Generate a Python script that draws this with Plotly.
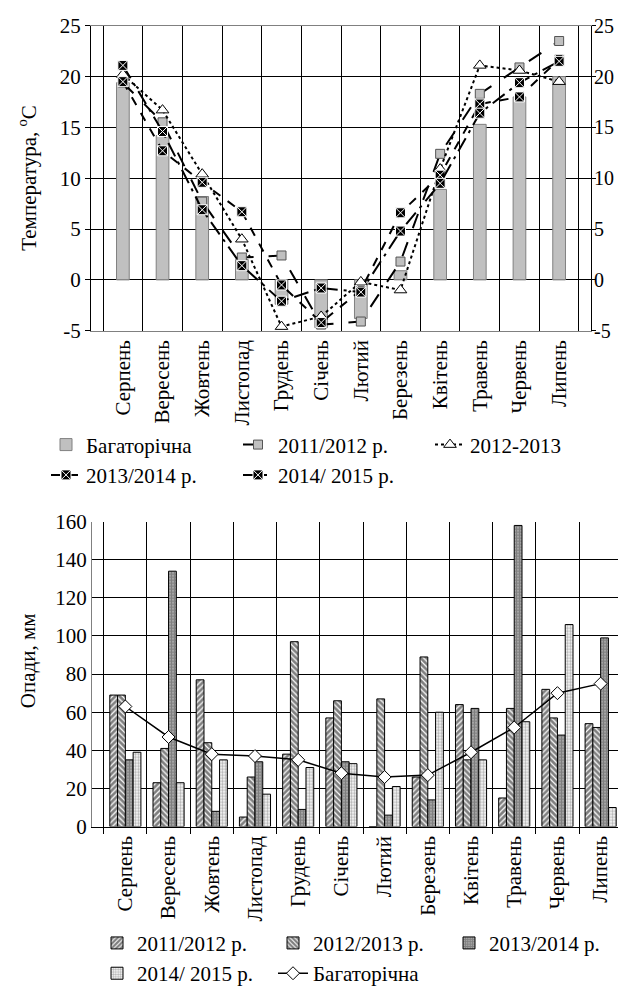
import plotly.graph_objects as go

months = ["Серпень", "Вересень", "Жовтень", "Листопад", "Грудень", "Січень",
          "Лютий", "Березень", "Квітень", "Травень", "Червень", "Липень"]

# Temperature, °C
temp_long = [19.4, 14.2, 8.2, 2.0, -2.4, -4.7, -3.8, 0.9, 8.9, 15.3, 18.0, 20.0]
temp_2011 = [19.4, 15.5, 7.7, 2.2, 2.4, -4.4, -4.1, 1.8, 12.4, 18.3, 20.9, 23.5]
temp_2012 = [20.2, 16.7, 10.4, 4.0, -4.6, -3.6, -0.2, -1.0, 10.9, 21.1, 20.6, 19.5]
temp_2013 = [19.5, 12.7, 9.6, 6.7, -0.5, -4.2, -1.0, 6.6, 10.3, 17.3, 18.0, 21.7]
temp_2014 = [21.1, 14.6, 6.9, 1.4, -2.1, -0.8, -1.2, 4.8, 9.5, 16.4, 19.4, 21.5]
temp_ticks = [-5, 0, 5, 10, 15, 20, 25]
temp_ticktext = ["-5", "0", "5", "10", "15", "20", "25"]

# Precipitation, mm
prec_2011 = [69, 23, 77, 5, 38, 57, 0, 26, 64, 15, 72, 54]
prec_2012 = [69, 41, 44, 26, 97, 66, 67, 89, 35, 62, 57, 52]
prec_2013 = [35, 134, 8, 34, 9, 34, 6, 14, 62, 158, 48, 99]
prec_2014 = [39, 23, 35, 17, 31, 33, 21, 60, 35, 55, 106, 10]
prec_long = [63, 47, 38, 37, 35, 28, 26, 27, 39, 52, 70, 75]

FONT = "Liberation Serif, Times New Roman, serif"
W, H = 626, 986


def px_x(v):
    return v / W


def px_y(v):
    return 1 - v / H


fig = go.Figure()

# ---------- top chart ----------
fig.add_trace(go.Bar(
    x=months, y=temp_long, name="Багаторічна", width=0.32,
    marker=dict(color="#c0c0c0", line=dict(color="#808080", width=1)),
    xaxis="x", yaxis="y", legend="legend"))
fig.add_trace(go.Scatter(
    x=months, y=temp_2011, name="2011/2012 р.", mode="lines+markers",
    line=dict(color="black", width=2, dash="longdash"),
    marker=dict(symbol="square", size=9, color="#c0c0c0", line=dict(color="#555", width=1)),
    xaxis="x", yaxis="y", legend="legend2"))
fig.add_trace(go.Scatter(
    x=months, y=temp_2012, name="2012-2013", mode="lines+markers",
    line=dict(color="black", width=2, dash="dot"),
    marker=dict(symbol="triangle-up", size=11, color="white", line=dict(color="black", width=1)),
    xaxis="x", yaxis="y", legend="legend3"))
fig.add_trace(go.Scatter(
    x=months, y=temp_2013, name="2013/2014 р.", mode="lines+markers",
    line=dict(color="black", width=2, dash="dash"),
    marker=dict(symbol="square-x", size=10, color="black", line=dict(color="white", width=1)),
    xaxis="x", yaxis="y", legend="legend"))
fig.add_trace(go.Scatter(
    x=months, y=temp_2014, name="2014/ 2015 р.", mode="lines+markers",
    line=dict(color="black", width=2, dash="longdashdot"),
    marker=dict(symbol="square-x", size=10, color="black", line=dict(color="white", width=1)),
    xaxis="x", yaxis="y", legend="legend2"))
# invisible trace to carry the right-hand axis
fig.add_trace(go.Scatter(
    x=months, y=temp_long, mode="markers", marker=dict(opacity=0),
    showlegend=False, hoverinfo="skip", xaxis="x", yaxis="y3"))

# ---------- bottom chart ----------
def pat_bar(vals, name, shape, fg, size, sol, leg):
    return go.Bar(
        x=months, y=vals, name=name,
        marker=dict(color="white", line=dict(color="black", width=1),
                    pattern=dict(shape=shape, fgcolor=fg, bgcolor="white",
                                 size=size, solidity=sol, fillmode="overlay")),
        xaxis="x2", yaxis="y2", legend=leg)


fig.add_trace(pat_bar(prec_2011, "2011/2012 р.", "/", "black", 4, 0.7, "legend4"))
fig.add_trace(pat_bar(prec_2012, "2012/2013 р.", "\\", "black", 4, 0.7, "legend5"))
fig.add_trace(pat_bar(prec_2013, "2013/2014 р.", "+", "black", 3, 0.85, "legend6"))
fig.add_trace(pat_bar(prec_2014, "2014/ 2015 р.", ".", "#666666", 3, 0.5, "legend4"))
fig.add_trace(go.Scatter(
    x=months, y=prec_long, name="Багаторічна", mode="lines+markers",
    line=dict(color="black", width=1.5),
    marker=dict(symbol="diamond", size=10, color="white", line=dict(color="black", width=1)),
    xaxis="x2", yaxis="y2", legend="legend5"))

tickfont = dict(family=FONT, size=21, color="black")
rtickfont = dict(family=FONT, size=20, color="black")
legfont = dict(family=FONT, size=21, color="black")

top_x = [px_x(83), px_x(583)]
top_y = [px_y(327), px_y(18)]
bot_x = [px_x(84), 1.0]
bot_y = [px_y(829.5), px_y(520.5)]

leg_common = dict(xanchor="left", yanchor="top", font=legfont,
                  bgcolor="rgba(0,0,0,0)", tracegroupgap=0)

fig.update_layout(
    width=W, height=H,
    margin=dict(l=0, r=0, t=0, b=0),
    paper_bgcolor="white", plot_bgcolor="white",
    barmode="group", bargap=0.28, bargroupgap=0,
    font=dict(family=FONT, size=21, color="black"),
    xaxis=dict(domain=top_x, anchor="y", type="category", tickson="boundaries",
               showgrid=True, gridcolor="black", gridwidth=1,
               showline=True, linecolor="#808080", mirror=True,
               ticks="", tickangle=-90, tickfont=tickfont, automargin=False),
    yaxis=dict(domain=top_y, anchor="x", range=[-5, 25],
               tickvals=temp_ticks, ticktext=temp_ticktext,
               showgrid=True, gridcolor="black", gridwidth=1, zeroline=False,
               showline=True, linecolor="black", ticks="outside", ticklen=5,
               tickcolor="black", tickfont=tickfont, automargin=False),
    yaxis3=dict(overlaying="y", side="right", anchor="x", range=[-5, 25],
                tickvals=temp_ticks, ticktext=temp_ticktext,
                showgrid=False, zeroline=False, showline=True, linecolor="black",
                ticks="outside", ticklen=4, tickcolor="black", tickfont=rtickfont,
                ticklabelstandoff=-6, automargin=False),
    xaxis2=dict(domain=bot_x, anchor="y2", type="category", tickson="boundaries",
                showgrid=True, gridcolor="black", gridwidth=1,
                showline=True, linecolor="black",
                ticks="outside", ticklen=6, tickcolor="black",
                tickangle=-90, tickfont=tickfont, automargin=False),
    yaxis2=dict(domain=bot_y, anchor="x2", range=[0, 160], dtick=20,
                showgrid=True, gridcolor="black", gridwidth=1, zeroline=False,
                showline=True, linecolor="#808080", mirror=True,
                ticks="", tickfont=tickfont, automargin=False),
    legend=dict(x=px_x(38), y=px_y(422), **leg_common),
    legend2=dict(x=px_x(230), y=px_y(422), **leg_common),
    legend3=dict(x=px_x(422), y=px_y(422), **leg_common),
    legend4=dict(x=px_x(89), y=px_y(927), **leg_common),
    legend5=dict(x=px_x(265), y=px_y(927), **leg_common),
    legend6=dict(x=px_x(441), y=px_y(927), **leg_common),
    annotations=[
        dict(text="Температура, <sup>o</sup>C", x=px_x(20), y=px_y(172),
             xref="paper", yref="paper", xanchor="center", yanchor="middle",
             showarrow=False, textangle=-90,
             font=dict(family=FONT, size=21, color="black")),
        dict(text="Опади, мм", x=px_x(20), y=px_y(662),
             xref="paper", yref="paper", xanchor="center", yanchor="middle",
             showarrow=False, textangle=-90,
             font=dict(family=FONT, size=21, color="black")),
    ],
)

fig.write_html("out.html")
